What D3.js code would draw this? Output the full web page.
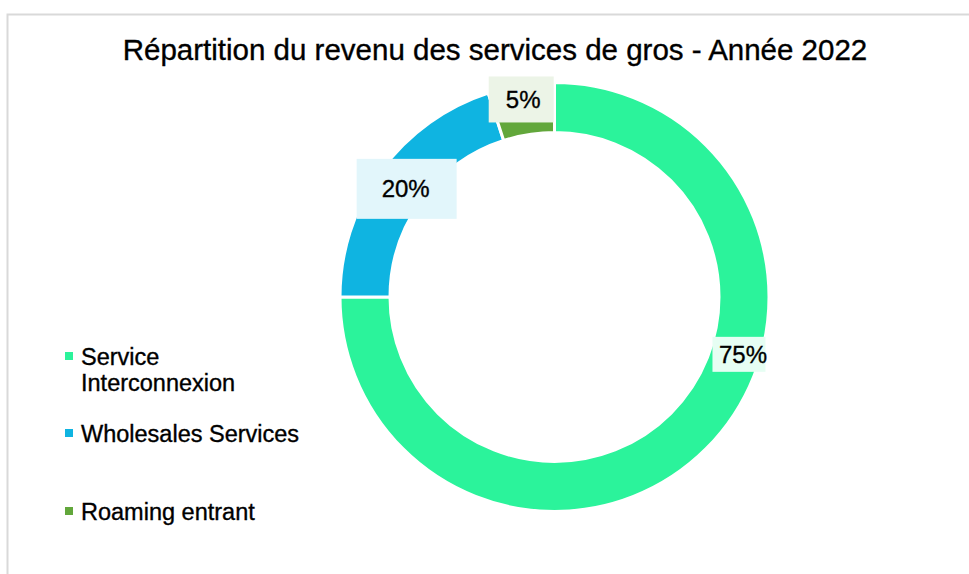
<!DOCTYPE html>
<html>
<head>
<meta charset="utf-8">
<script src="https://cdn.jsdelivr.net/npm/d3@7"></script>
<style>
  body { margin: 0; background: #fff; }
  svg { display: block; font-family: "Liberation Sans", Arial, sans-serif; }
  text { stroke: #000; stroke-width: 0.35px; }
</style>
</head>
<body>
<div id="chart-area"></div>
<script>
// DATA
var categories = ["Service Interconnexion", "Wholesales Services", "Roaming entrant"];
var legendLines = [["Service", "Interconnexion"], ["Wholesales Services"], ["Roaming entrant"]];
var shares = [75, 20, 5];
var labels = ["75%", "20%", "5%"];

var width = 969, height = 574;
var cx = 554.5, cy = 297;
var outerR = 214.5, innerR = 164.5;

// label placement (fraction along slice, radius) and label box sizes
var labelPlace = [{ f: 0.396, r: 197, w: 53, h: 35, dx: -4 },
                  { f: 0.5, r: 184, w: 100, h: 60, dx: 1 },
                  { f: 0.5, r: 200, w: 65, h: 46, dx: -2 }];
var colors = ["#2bf39b", "#0fb4e1", "#62a73b"];
var legendY = [357, 434, 512];

var svg = d3.select("#chart-area")
    .append("svg")
    .attr("width", width)
    .attr("height", height);

// frame
svg.append("path")
    .attr("d", "M7.5," + height + "V14.5H" + width)
    .attr("fill", "none")
    .attr("stroke", "#d9d9d9")
    .attr("stroke-width", 2);

// TITLE
svg.append("text")
    .attr("x", 495)
    .attr("y", 60)
    .attr("text-anchor", "middle")
    .attr("font-size", "29.5px")
    .attr("fill", "#000")
    .text("Répartition du revenu des services de gros - Année 2022");

var color = d3.scaleOrdinal().domain(categories).range(colors);

var pie = d3.pie().sort(null).value(function (d) { return d.value; });
var data = categories.map(function (c, i) { return { name: c, value: shares[i], label: labels[i] }; });
var arcs = pie(data);

var arc = d3.arc().innerRadius(innerR).outerRadius(outerR);

var g = svg.append("g").attr("transform", "translate(" + cx + "," + cy + ")");

g.selectAll("path.slice")
    .data(arcs)
    .enter()
    .append("path")
    .attr("class", "slice")
    .attr("d", arc)
    .attr("fill", function (d) { return color(d.data.name); })
    .attr("stroke", "#fff")
    .attr("stroke-width", 3);

// LABELS
var lab = g.selectAll("g.lab")
    .data(arcs)
    .enter()
    .append("g")
    .attr("class", "lab")
    .attr("transform", function (d, i) {
        var p = labelPlace[i];
        var a = d.startAngle + (d.endAngle - d.startAngle) * p.f;
        return "translate(" + (p.r * Math.sin(a)) + "," + (-p.r * Math.cos(a)) + ")";
    });

lab.append("rect")
    .attr("x", function (d, i) { return -labelPlace[i].w / 2 + labelPlace[i].dx; })
    .attr("y", function (d, i) { return -labelPlace[i].h / 2; })
    .attr("width", function (d, i) { return labelPlace[i].w; })
    .attr("height", function (d, i) { return labelPlace[i].h; })
    .attr("fill", function (d) { return d3.interpolateRgb(color(d.data.name), "#fff")(0.88); });

lab.append("text")
    .attr("text-anchor", "middle")
    .attr("dy", "0.36em")
    .attr("font-size", "24px")
    .attr("fill", "#000")
    .text(function (d) { return d.data.label; });

// LEGEND
var leg = svg.selectAll("g.legend")
    .data(categories)
    .enter()
    .append("g")
    .attr("class", "legend")
    .attr("transform", function (d, i) { return "translate(65," + legendY[i] + ")"; });

leg.append("rect")
    .attr("y", -5)
    .attr("width", 8)
    .attr("height", 8)
    .attr("fill", function (d) { return color(d); });

leg.append("text")
    .attr("x", 16)
    .attr("font-size", "23.5px")
    .attr("fill", "#000")
    .each(function (d, i) {
        var t = d3.select(this);
        legendLines[i].forEach(function (line, j) {
            t.append("tspan")
                .attr("x", 16)
                .attr("y", j * 26)
                .attr("dy", "0.36em")
                .text(line);
        });
    });
</script>
</body>
</html>
